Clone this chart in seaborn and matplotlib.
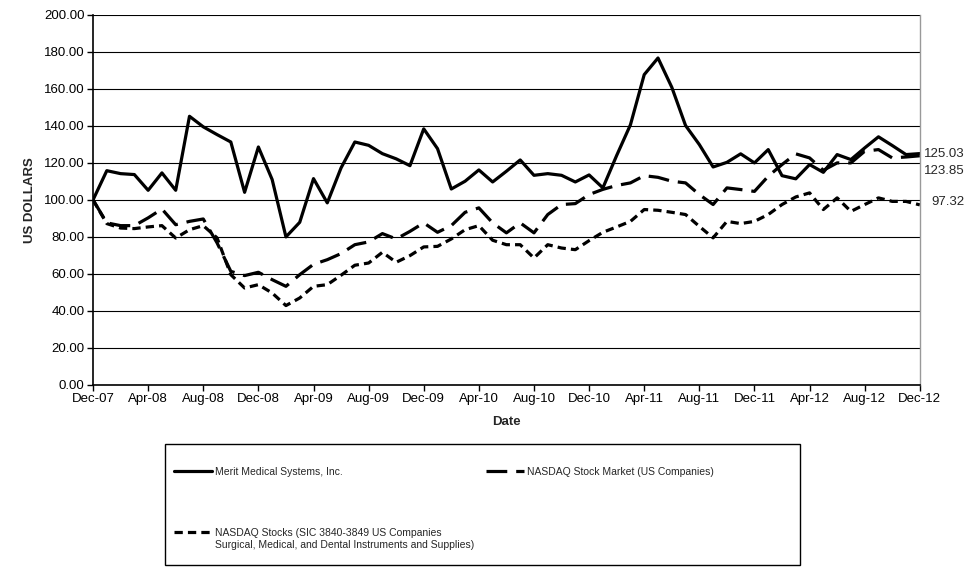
import pandas as pd
import numpy as np
import matplotlib
matplotlib.use("Agg")
import matplotlib.pyplot as plt
import seaborn as sns

# Cumulative total return, monthly Dec-07 .. Dec-12

months = pd.date_range("2007-12-01", "2012-12-01", freq="MS")

merit = [
    100.00, 115.8, 114.2, 113.7, 105.2, 114.6, 105.2, 145.2, 139.5, 135.3,
    131.3, 104.1, 128.6, 111.0, 80.0, 87.9, 111.5, 98.4, 117.3, 131.3,
    129.5, 125.0, 122.2, 118.5, 138.4, 127.7, 105.9, 110.1, 116.2, 109.7,
    115.5, 121.6, 113.3, 114.2, 113.3, 109.7, 113.5, 106.5, 124.0, 140.6,
    167.7, 176.7, 160.9, 140.2, 129.9, 117.8, 120.3, 124.9, 120.0, 127.2,
    113.1, 111.4, 119.1, 114.9, 124.5, 121.8, 128.1, 134.1, 129.4, 124.5,
    125.03,
]

nasdaq_market = [
    100.00, 87.6, 86.1, 86.1, 90.3, 95.1, 86.6, 88.4, 89.7, 76.8,
    61.4, 59.1, 60.9, 56.9, 53.3, 59.6, 65.2, 67.7, 71.0, 75.8,
    77.3, 81.8, 78.9, 83.0, 87.6, 82.5, 86.1, 93.3, 95.7, 87.6,
    82.2, 87.6, 82.2, 92.1, 97.5, 98.0, 102.9, 105.7, 107.8, 109.2,
    113.1, 112.2, 110.1, 109.2, 102.9, 97.5, 106.5, 105.6, 104.6, 112.8,
    119.1, 124.9, 122.7, 116.0, 120.0, 120.0, 126.3, 127.2, 122.7, 123.2,
    123.85,
]

nasdaq_sic = [
    100.00, 87.2, 84.8, 84.5, 85.4, 86.1, 79.4, 83.9, 86.1, 79.5,
    59.6, 52.4, 54.2, 49.7, 42.9, 47.0, 53.3, 54.2, 59.3, 64.7,
    65.9, 71.7, 66.3, 69.9, 74.6, 74.9, 78.9, 83.9, 86.1, 78.2,
    75.8, 75.8, 68.6, 75.8, 74.0, 73.1, 78.0, 82.5, 85.4, 88.4,
    94.8, 94.4, 93.3, 92.1, 85.7, 79.5, 88.4, 87.2, 88.4, 92.1,
    97.5, 101.6, 103.8, 94.8, 101.1, 93.8, 97.5, 101.1, 99.2, 99.2,
    97.32,
]

end_labels = ["125.03", "123.85", "97.32"]

name_merit = "Merit Medical Systems, Inc."
name_market = "NASDAQ Stock Market (US Companies)"
name_sic = "NASDAQ Stocks (SIC 3840-3849 US Companies"
name_sic_2 = "Surgical, Medical, and Dental Instruments and Supplies)"

month_idx = np.arange(len(months))
tick_idx = month_idx[::4]
tick_labels = [m.strftime("%b-%y") for m in months[::4]]

df = pd.DataFrame({
    "Month": np.tile(month_idx, 3),
    "Value": merit + nasdaq_market + nasdaq_sic,
    "Series": [name_merit] * len(merit)
              + [name_market] * len(nasdaq_market)
              + [name_sic] * len(nasdaq_sic),
})

sns.set_theme(style="white")
plt.rcParams["font.family"] = ["Liberation Sans", "DejaVu Sans"]

fig = plt.figure(figsize=(9.67, 5.72), dpi=100)
ax = fig.add_axes([0.0962, 0.327, 0.855, 0.647])

ax.yaxis.grid(True, color="black", linewidth=0.8)
ax.set_axisbelow(True)

sns.lineplot(
    data=df,
    x="Month",
    y="Value",
    hue="Series",
    style="Series",
    palette=["black", "black", "black"],
    dashes={
        name_merit: "",
        name_market: (6.5, 2.8),
        name_sic: (2.6, 1.6),
    },
    linewidth=2.3,
    legend=False,
    ax=ax,
)

ax.set_xlim(month_idx[0], month_idx[-1])
ax.set_ylim(0, 200)
ax.set_yticks(np.arange(0, 201, 20))
ax.set_yticklabels([f"{v:.2f}" for v in np.arange(0, 201, 20)], fontsize=9.5)
ax.set_xticks(tick_idx)
ax.set_xticklabels(tick_labels, fontsize=9.5)

ax.tick_params(axis="both", direction="out", length=4, width=1,
               color="black", pad=2, labelcolor="black")
ax.tick_params(axis="x", bottom=True)
ax.tick_params(axis="y", left=True)

ax.set_xlabel("Date", fontsize=9.5, fontweight="bold", labelpad=8)
ax.set_ylabel("US DOLLARS", fontsize=9.5, fontweight="bold", labelpad=6)

for side in ["left", "bottom"]:
    ax.spines[side].set_color("black")
    ax.spines[side].set_linewidth(1.2)
ax.spines["top"].set_visible(False)
ax.spines["right"].set_color("#999999")
ax.spines["right"].set_linewidth(1.0)

# end-of-period value labels
last_vals = [merit[-1], nasdaq_market[-1], nasdaq_sic[-1]]
offsets = [(3, 0), (3, -11), (8, 2)]
for lbl, val, off in zip(end_labels, last_vals, offsets):
    ax.annotate(
        lbl,
        xy=(1.0, val),
        xycoords=("axes fraction", "data"),
        xytext=off,
        textcoords="offset points",
        fontsize=9.5,
        ha="left",
        va="center",
        annotation_clip=False,
    )

# legend box
box = plt.Rectangle(
    (165 / 967, 1 - 565 / 572), 635 / 967, 121 / 572,
    transform=fig.transFigure, fill=False, edgecolor="black", linewidth=1.0
)
fig.add_artist(box)

h_merit = plt.Line2D([], [], color="black", linewidth=2.3)
h_market = plt.Line2D([], [], color="black", linewidth=2.3, dashes=(6.5, 2.8))
h_sic = plt.Line2D([], [], color="black", linewidth=2.3, dashes=(2.6, 1.6))

leg = fig.legend(
    [h_merit, h_sic, h_market],
    [name_merit, name_sic, name_market],
    loc="upper left",
    bbox_to_anchor=(174 / 967, 1 - 467 / 572),
    ncol=2,
    fontsize=7.5,
    frameon=False,
    handlelength=3.6,
    handletextpad=0.3,
    labelspacing=4.9,
    borderpad=0,
    borderaxespad=0,
    columnspacing=4.3,
)

# second line of the SIC label, under its first line
fig.canvas.draw()
sic_text = leg.get_texts()[1]
bb = sic_text.get_window_extent().transformed(fig.transFigure.inverted())
fig.text(bb.x0, bb.y0 - 12 / 572, name_sic_2, fontsize=7.5,
         ha="left", va="bottom")

fig.savefig("out.png", dpi=100, facecolor="white")
